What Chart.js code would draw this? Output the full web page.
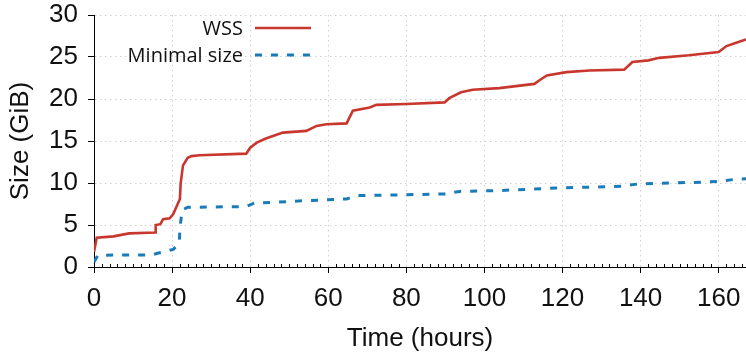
<!DOCTYPE html>
<html>
<head>
<meta charset="utf-8">
<style>
  html, body { margin: 0; padding: 0; background: #fff; }
  #wrap { width: 746px; height: 358px; }
</style>
<script src="https://cdn.jsdelivr.net/npm/chart.js@4.4.1/dist/chart.umd.min.js"></script>
</head>
<body>
<div id="wrap"><canvas id="wss-chart" width="746" height="358"></canvas></div>
<script>
// ---- data ----
const wssHours = [0, 0.7, 5, 9, 15.7, 15.8, 17, 17.7, 19.4, 20.3, 22, 22.2, 22.8, 24, 25, 27, 39, 40, 41.7, 44, 48.4, 54.4, 57, 59.5, 64.7, 66.3, 70.6, 72.3, 80, 89.8, 91, 94, 97, 103.8, 112.8, 114, 116, 121, 126.9, 135.8, 137.9, 142, 144.8, 152.4, 160, 162, 164.5, 167];
const wssValues = [1.8, 3.5, 3.65, 4.0, 4.1, 5.0, 5.1, 5.7, 5.8, 6.3, 8.1, 10.0, 12.1, 13.0, 13.2, 13.3, 13.5, 14.2, 14.8, 15.3, 16.0, 16.2, 16.8, 17.0, 17.1, 18.6, 19.0, 19.3, 19.4, 19.6, 20.1, 20.8, 21.1, 21.3, 21.8, 22.2, 22.8, 23.2, 23.4, 23.5, 24.4, 24.6, 24.9, 25.2, 25.6, 26.3, 26.7, 27.1];

const minHours = [0, 1, 15, 16, 17.8, 20.3, 21.8, 22.1, 22.6, 24, 39, 41, 45.8, 54.4, 64.7, 67.2, 80, 89.8, 93.6, 103.8, 118.4, 135, 139.6, 155.8, 160, 164.5, 167];
const minValues = [0.6, 1.4, 1.45, 1.6, 1.8, 2.1, 2.8, 5.0, 6.8, 7.1, 7.2, 7.6, 7.7, 7.9, 8.1, 8.5, 8.6, 8.7, 9.0, 9.1, 9.4, 9.6, 9.9, 10.1, 10.2, 10.45, 10.5];

const xTicks = [0, 20, 40, 60, 80, 100, 120, 140, 160];
const yTicks = [0, 5, 10, 15, 20, 25, 30];
const seriesNames = ["WSS", "Minimal size"];

const RED = "#c8372d";
const BLUE = "#1a7bb9";

const toPoints = (xs, ys) => xs.map((x, i) => ({ x: x, y: ys[i] }));

/* ---- minor ticks on the x axis, every 2 hours ---- */
const minorTicks = {
  id: "minorTicks",
  afterDraw(chart) {
    const xs = chart.scales.x;
    const y0 = chart.scales.y.getPixelForValue(0);
    const ctx = chart.ctx;
    ctx.save();
    ctx.strokeStyle = "#000";
    ctx.lineWidth = 1;
    ctx.beginPath();
    for (let h = 2; h < xs.max; h += 2) {
      if (h % 20 === 0) continue;
      const px = Math.round(xs.getPixelForValue(h)) + 0.5;
      ctx.moveTo(px, y0);
      ctx.lineTo(px, y0 - 3);
    }
    ctx.stroke();
    ctx.restore();
  }
};

/* ---- legend: text first, then the line sample ---- */
const sideLegend = {
  id: "sideLegend",
  afterDraw(chart) {
    const ctx = chart.ctx;
    ctx.save();
    ctx.font = '20px "Open Sans"';
    ctx.fillStyle = "#111";
    ctx.textAlign = "right";
    ctx.textBaseline = "middle";
    chart.data.datasets.forEach((ds, i) => {
      const yy = 28 + i * 27;
      ctx.fillText(ds.label, 243, yy + 1);
      ctx.strokeStyle = ds.borderColor;
      ctx.lineWidth = ds.borderWidth;
      ctx.setLineDash(ds.borderDash || []);
      ctx.beginPath();
      ctx.moveTo(255, yy);
      ctx.lineTo(311, yy);
      ctx.stroke();
    });
    ctx.restore();
  }
};

const tickFont = { family: '"Liberation Sans", Arial, sans-serif', size: 26 };
const gridOpts = { color: "#d0d0d0", lineWidth: 1, tickColor: "#000", tickLength: 6, tickWidth: 1 };
const borderOpts = { color: "#000", width: 1, dash: [1.5, 3.5] };

const wssChart = new Chart(document.querySelector("#wss-chart"), {
  type: "line",
  data: {
    datasets: [
      {
        label: seriesNames[0],
        data: toPoints(wssHours, wssValues),
        borderColor: RED,
        borderWidth: 2.6,
        pointRadius: 0,
        tension: 0,
        fill: false,
      },
      {
        label: seriesNames[1],
        data: toPoints(minHours, minValues),
        borderColor: BLUE,
        borderWidth: 3,
        borderDash: [7, 9],
        pointRadius: 0,
        tension: 0,
        fill: false,
      },
    ],
  },
  options: {
    responsive: false,
    animation: false,
    layout: { padding: { top: 15, right: 0, left: 0, bottom: 0 } },
    plugins: {
      legend: { display: false },
      tooltip: { enabled: false },
    },
    scales: {
      x: {
        type: "linear",
        min: 0,
        max: 167,
        afterBuildTicks: (s) => { s.ticks = xTicks.map((v) => ({ value: v })); },
        afterFit: (s) => { s.height = 91; s.paddingLeft = 0; s.paddingRight = 0; },
        ticks: { font: tickFont, color: "#111", padding: 10, maxRotation: 0 },
        grid: gridOpts,
        border: borderOpts,
        title: {
          display: true,
          text: "Time (hours)",
          font: tickFont,
          color: "#111",
          padding: { top: 0, bottom: 4 },
        },
      },
      y: {
        min: 0,
        max: 30,
        afterBuildTicks: (s) => { s.ticks = yTicks.map((v) => ({ value: v })); },
        afterFit: (s) => { s.width = 94; s.paddingTop = 0; s.paddingBottom = 0; },
        ticks: { font: tickFont, color: "#111", padding: 10 },
        grid: gridOpts,
        border: borderOpts,
        title: {
          display: true,
          text: "Size (GiB)",
          font: tickFont,
          color: "#111",
          padding: { top: 5, bottom: 0 },
        },
      },
    },
  },
  plugins: [minorTicks, sideLegend],
});
</script>
</body>
</html>
